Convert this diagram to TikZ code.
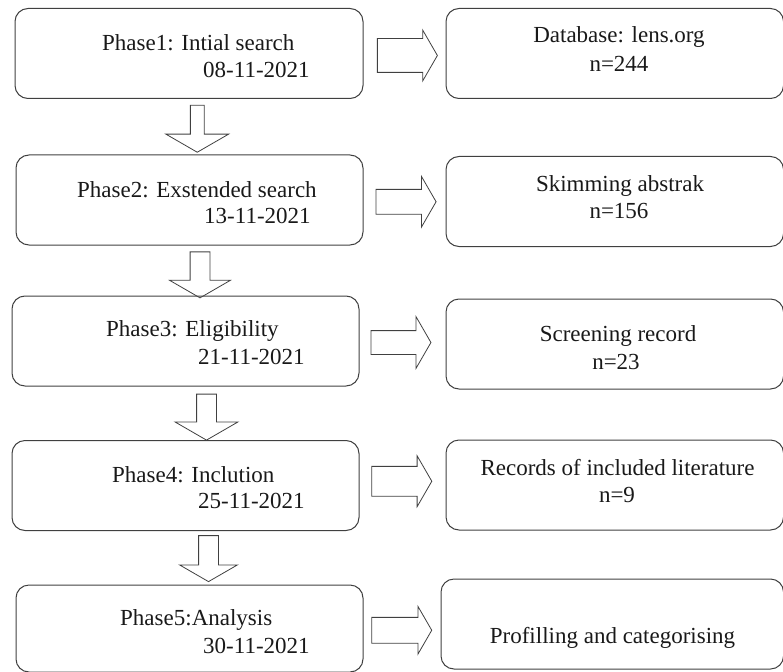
\documentclass[tikz,border=0pt]{standalone}
\usepackage{fontspec}
\setmainfont{Liberation Serif}
\usetikzlibrary{calc}
\usetikzlibrary{shapes.arrows}

\begin{document}
\begin{tikzpicture} [x=1pt,y=-1pt,
  box/.style={draw=black!75, line width=1pt, rounded corners=13pt, minimum height=90pt, inner sep=0},
  lefttxt/.style={anchor=base west, inner sep=0, text=black!90, font=\fontsize{23}{26}\selectfont},
  midtxt/.style={anchor=base, inner sep=0, text=black!90, font=\fontsize{23}{26}\selectfont},
  rarrow/.style={single arrow, draw=black!75, line width=.8pt, minimum height=60pt, inner xsep=0, inner ysep=12pt, single arrow head extend=13pt, single arrow tip angle=120},
  darrow/.style={rarrow, rotate=-90, minimum height=46pt, inner ysep=9.5pt, single arrow head extend=20.5pt}]

\useasboundingbox (0,0) rectangle (783,671);
\clip (0,0) rectangle (783,671);

\node[box, minimum width=348pt] (p1) at (189,53.5) {};
\node[box, minimum width=347pt] (p2) at (189.5,200) {};
\node[box, minimum width=347pt] (p3) at (185.5,341) {};
\node[box, minimum width=347pt] (p4) at (185.5,485.5) {};
\node[box, minimum width=347pt, minimum height=87pt] (p5) at (189.5,628.5) {};

\node[box, minimum width=337.5pt] (r1) at (614.75,53.5) {};
\node[box, minimum width=337.5pt] (r2) at (614.75,201.5) {};
\node[box, minimum width=337.5pt] (r3) at (614.75,344) {};
\node[box, minimum width=337.5pt] (r4) at (614.75,485) {};
\node[box, minimum width=342.5pt] (r5) at (612.25,624) {};

\node[lefttxt] (p1a) at (102,51) {Phase1: Intial search};
\node[lefttxt] (p1b) at (203,78) {08-11-2021};
\node[lefttxt] (p2a) at (77,197) {Phase2: Exstended search};
\node[lefttxt] (p2b) at (204,223) {13-11-2021};
\node[lefttxt] (p3a) at (106,336) {Phase3: Eligibility};
\node[lefttxt] (p3b) at (198,364) {21-11-2021};
\node[lefttxt] (p4a) at (112,482) {Phase4: Inclution};
\node[lefttxt] (p4b) at (198,508) {25-11-2021};
\node[lefttxt] (p5a) at (120,625) {Phase5:Analysis};
\node[lefttxt] (p5b) at (203,653) {30-11-2021};

\node[midtxt] (r1a) at (619,43) {Database: lens.org};
\node[midtxt] (r1b) at (619,72) {n=244};
\node[midtxt] (r2a) at (620,191) {Skimming abstrak};
\node[midtxt] (r2b) at (619,218) {n=156};
\node[midtxt] (r3a) at (618,341) {Screening record};
\node[midtxt] (r3b) at (616,369) {n=23};
\node[midtxt] (r4a) at (617.5,475) {Records of included literature};
\node[midtxt] (r4b) at (617,502) {n=9};
\node[midtxt] (r5a) at (612.5,643) {Profilling and categorising};

\node[rarrow, inner ysep=16.5pt, single arrow head extend=8.5pt] (a1) at ($(p1.east)!.5!(r1.west)+(-2,2)$) {};
\node[rarrow] (a2) at ($(p2.east)!.5!(r2.west)+(-2,1)$) {};
\node[rarrow, inner ysep=11.5pt, single arrow head extend=14pt] (a3) at ($(p3.east)!.5!(r3.west)+(-5,0)$) {};
\node[rarrow, inner ysep=14.5pt, single arrow head extend=10.5pt] (a4) at ($(p4.east)!.5!(r4.west)+(-5,-4)$) {};
\node[rarrow, inner ysep=12.5pt, single arrow head extend=11pt] (a5) at ($(p5.east)!.5!(r5.west)+(-4,4)$) {};

\node[darrow, minimum height=47pt, inner ysep=6.5pt, single arrow head extend=24.5pt] (d1) at ($(p1.south)!.5!(p2.north)+(8,0)$) {};
\node[darrow] (d2) at ($(p2.south)!.5!(p3.north)+(12.5,1.5)$) {};
\node[darrow, single arrow head extend=21.5pt] (d3) at ($(p3.south)!.5!(p4.north)+(21,1)$) {};
\node[darrow, single arrow head extend=19pt] (d4) at ($(p4.south)!.5!(p5.north)+(21,-2)$) {};

\end{tikzpicture}
\end{document}
